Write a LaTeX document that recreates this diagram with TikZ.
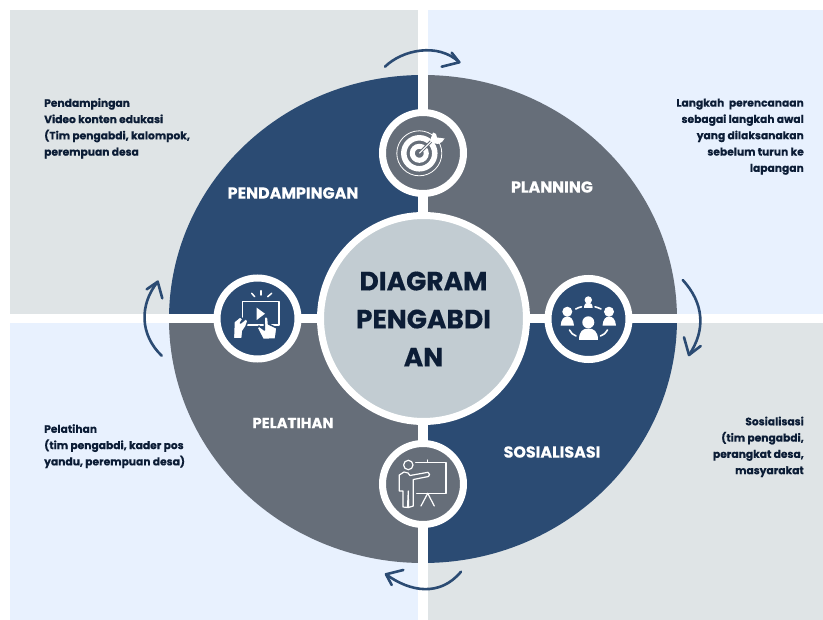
\documentclass[tikz,border=0pt]{standalone}
\usepackage{fontspec}
\setmainfont{Poppins}[BoldFeatures={FakeBold=0.4}]
\definecolor{navy}{HTML}{2B4B73}
\definecolor{slate}{HTML}{666E79}
\definecolor{hub}{HTML}{C2CCD2}
\definecolor{panelgrey}{HTML}{DFE4E6}
\definecolor{panelblue}{HTML}{E8F1FE}
\definecolor{inkdark}{HTML}{0C1D36}
\tikzset{
  ring/.style={circle,draw=white,line width=7pt,minimum size=81pt,inner sep=0pt},
  sidetext/.style={text=inkdark,font=\fontsize{10.7}{16.3}\selectfont\bfseries,inner sep=0pt},
  quadlabel/.style={text=white,font=\fontsize{15.9}{18}\selectfont\bfseries,inner sep=0pt},
  hubtext/.style={text=inkdark,font=\fontsize{26.5}{38}\selectfont\bfseries,align=center,inner sep=0pt},
  iconline/.style={draw=white,line width=1.2pt,line cap=round,line join=round},
  turn/.style={draw=navy,line width=2.6pt,line cap=round,line join=round},
}
\begin{document}
\begin{tikzpicture}[x=1pt,y=-1pt]
\useasboundingbox (0,0) rectangle (823,620);
\fill[white] (0,0) rectangle (823,620);
% panels
\fill[panelgrey] (10,10) rectangle (418,314);
\fill[panelblue] (428,10) rectangle (823,314);
\fill[panelblue] (10,323) rectangle (418,620);
\fill[panelgrey] (428,323) rectangle (823,620);
% quadrants
\begin{scope}
  \clip (423,319) ellipse [x radius=254pt,y radius=244pt];
  \fill[navy] (160,70) rectangle (418,314);
  \fill[slate] (428,70) rectangle (690,314);
  \fill[slate] (160,323) rectangle (418,570);
  \fill[navy] (428,323) rectangle (690,570);
\end{scope}
% hub and badges
\node[circle,draw=white,fill=hub,line width=7pt,minimum size=206pt,inner sep=0pt] (hubc) at (423.5,318.5) {};
\node[ring,fill=slate] (top) at (423,153) {};
\node[ring,fill=navy] (right) at (588.5,319) {};
\node[ring,fill=slate] (bottom) at (423,484) {};
\node[ring,fill=navy] (left) at (257.5,318.5) {};
\node[hubtext] (title) at (423.5,319) {DIAGRAM\\PENGABDI\\AN};
% quadrant labels
\node[quadlabel] (lblA) at (293,193) {PENDAMPINGAN};
\node[quadlabel] (lblB) at (552,187) {PLANNING};
\node[quadlabel,font=\fontsize{14.8}{18}\selectfont\bfseries] (lblC) at (293,423) {PELATIHAN};
\node[quadlabel] (lblD) at (552,452) {SOSIALISASI};
% side notes
\node[sidetext,align=left,anchor=north west] (noteA) at (44,98) {Pendampingan\\Video konten edukasi\\(Tim pengabdi, kalompok,\\perempuan desa};
\node[sidetext,align=right,anchor=north east] (noteB) at (804,98.5) {Langkah\ \ perencanaan\\sebagai langkah awal\\yang dilaksanakan\\sebelum turun ke\\lapangan};
\node[sidetext,align=left,anchor=north west] (noteC) at (44,424) {Pelatihan\\(tim pengabdi, kader pos\\yandu, perempuan desa)};
\node[sidetext,align=right,anchor=north east] (noteD) at (804,416.5) {Sosialisasi\\(tim pengabdi,\\perangkat desa,\\masyarakat};
% rotation arrows
\coordinate (ta) at (385,66.7); \coordinate (tb) at (459.3,62.3);
\coordinate (ra) at (682.7,280); \coordinate (rb) at (689,355);
\coordinate (ba) at (461,571.7); \coordinate (bb) at (386,574.3);
\coordinate (la) at (161.7,355.7); \coordinate (lb) at (157.7,281.7);
\draw[turn] (ta) .. controls (402,50) and (438,42) .. (tb);
\draw[turn] (451.7,52.7) -- (tb) -- (441.7,66.7);
\draw[turn] (ra) .. controls (704,303) and (706,330) .. (rb);
\draw[turn] (684,337.3) -- (rb) -- (700.7,346);
\draw[turn] (ba) .. controls (440,597) and (410,592) .. (bb);
\draw[turn] (403.3,570) -- (bb) -- (391.7,585);
\draw[turn] (la) .. controls (140,335) and (139,305) .. (lb);
\draw[turn] (146.7,289.3) -- (lb) -- (162.3,298.3);
% target icon
\draw[white,line width=.8pt] (419.3,153.3) circle (22.5pt);
\draw[white,line width=5.5pt] (419.3,153.3) circle (15.5pt);
\draw[white,line width=5pt] (419.3,153.3) circle (7pt);
\draw[slate,line width=3pt] (419.3,153.3) -- (434,138.6);
\draw[white,line width=1pt] (419.3,153.3) -- (434,138.6);
\fill[white] (430,140.5) -- (433,132.5) -- (436,134) -- (437,137.5) -- (444.5,138.5) -- (442,142) -- (438,144) -- (432.5,143) -- cycle;
% people icon
\fill[white] (588.3,322.3) circle (6pt);
\fill[white] (579,340) .. controls (579,331) and (583,328.5) .. (588.3,328.5) .. controls (593.5,328.5) and (598,331) .. (598,340) -- cycle;
\fill[white] (567.3,311.7) circle (5pt);
\fill[white] (560.7,325.7) .. controls (561,319) and (564,316.5) .. (567.3,316.5) .. controls (570.6,316.5) and (573.5,319) .. (574,325.7) -- cycle;
\fill[white] (609,311.7) circle (5pt);
\fill[white] (602.5,325.7) .. controls (603,319) and (606,316.5) .. (609,316.5) .. controls (612.5,316.5) and (615.5,319) .. (616,325.7) -- cycle;
\fill[white] (588.3,300) circle (3.7pt);
\fill[white] (584,308) .. controls (584,304) and (586,302.5) .. (588.3,302.5) .. controls (590.5,302.5) and (592.7,304) .. (592.7,308) -- cycle;
\draw[iconline,line width=1.6pt] (575.7,309) .. controls (577.5,308) and (579.5,307.3) .. (581.5,306.8);
\draw[iconline,line width=1.6pt] (595,306.8) .. controls (597,307.3) and (599,308) .. (601,309);
\draw[iconline,line width=1.6pt] (569.5,330) .. controls (571,333) and (573,335) .. (576,336);
\draw[iconline,line width=1.6pt] (600.5,336) .. controls (603.5,335) and (606,333) .. (607.5,330);
% tablet icon
\draw[iconline,line width=1.5pt] (242.3,301.7) rectangle (279,325);
\fill[white] (256.7,307.7) -- (256.7,320) -- (265,313.7) -- cycle;
\draw[iconline,line width=1.5pt] (251.7,293.3) -- (254.7,296.7);
\draw[iconline,line width=1.5pt] (261,290.7) -- (261,295);
\draw[iconline,line width=1.5pt] (271.7,293.3) -- (267.7,296.7);
\draw[navy,line width=1.5pt,fill=white,line join=round] (233.3,339) -- (234,321.7) -- (240,316.7) -- (243,319) -- (240.5,323) -- (246,318.5) -- (248,321) -- (246,326.5) -- (243,331) -- (242,339) -- cycle;
\draw[navy,line width=1.5pt,fill=white,line join=round] (264,318) -- (266,316) -- (268,318) -- (268.5,324) -- (277,328) -- (275.5,339) -- (263,339.5) -- (257,328) -- (259,326) -- (264.5,330) -- cycle;
% presenter icon
\draw[iconline] (408.3,465) circle (4.7pt);
\draw[iconline] (415.7,462.3) -- (446,462.3) -- (446,493.3) -- (416.7,493.3);
\draw[iconline] (427.3,460) -- (427.3,462.3);
\draw[iconline] (421,506) -- (427.7,493.3) -- (434.3,506);
\draw[iconline] (399.3,475) -- (404,472) -- (408,473) -- (410,475.5) -- (428,472.3) .. controls (430,473) and (430,476) .. (428.5,476.5) -- (413.3,479.5) -- (413.3,506) -- (408.5,507.5) -- (408.3,491) -- (407.5,507.5) -- (403,507) -- (403,491) -- (399.3,491) -- cycle;
\end{tikzpicture}
\end{document}
